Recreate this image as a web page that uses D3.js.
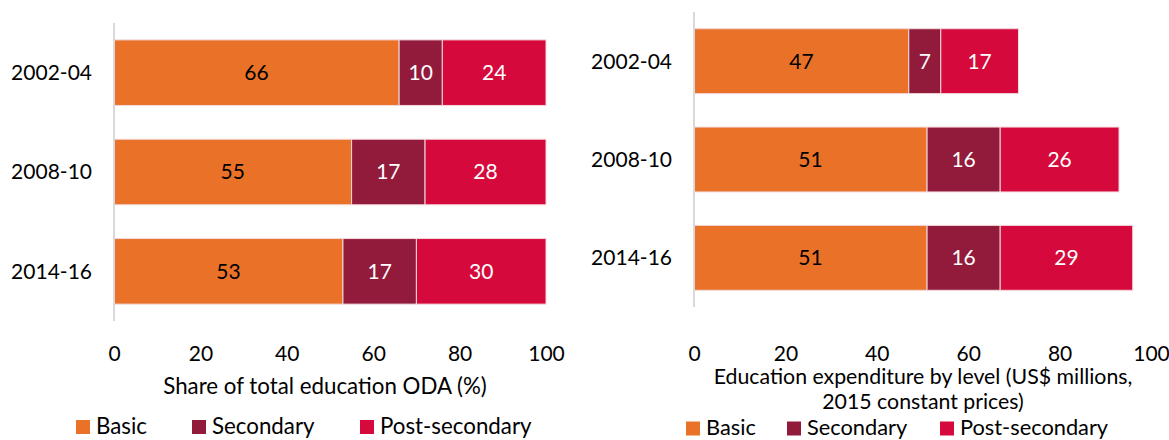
<!DOCTYPE html>
<html>
<head>
<meta charset="utf-8">
<script src="https://cdn.jsdelivr.net/npm/d3@7"></script>
<style>
  body { margin: 0; background: #fff; }
  svg text { font-family: Lato, "Open Sans", sans-serif; }
</style>
</head>
<body>
<div id="plot"></div>
<script>
// data
const periods = ["2002-04", "2008-10", "2014-16"];
const levels = ["Basic", "Secondary", "Post-secondary"];

// left panel: share of total education ODA (%)
const shareBasic = [66, 55, 53];
const shareSecondary = [10, 17, 17];
const sharePost = [24, 28, 30];

// right panel: expenditure (US$ millions, 2015 constant prices)
const spendBasic = [47, 51, 51];
const spendSecondary = [7, 16, 16];
const spendPost = [17, 26, 29];

const xTicks = [0, 20, 40, 60, 80, 100];

const w = 1169;
const h = 440;
const fontSize = 21;     // digits
const colors = {"Basic": "#E97228", "Secondary": "#921B3C", "Post-secondary": "#D6093C"};
const textColors = {"Basic": "#000", "Secondary": "#fff", "Post-secondary": "#fff"};

const svg = d3.select("div#plot")
  .append("svg")
  .attr("width", w)
  .attr("height", h);

function makeRows(b, s, p) {
  return periods.map((d, i) => ({period: d, "Basic": b[i], "Secondary": s[i], "Post-secondary": p[i]}));
}

function drawPanel(opt) {
  const rows = makeRows(opt.basic, opt.secondary, opt.post);
  const stacked = d3.stack().keys(levels)(rows);

  const xScale = d3.scaleLinear().domain([0, 100]).range([opt.x0, opt.x1]);
  const yScale = d3.scaleBand()
    .domain(periods)
    .range([opt.y0, opt.y1])
    .paddingInner(0.34)
    .paddingOuter(0.17);

  const g = svg.append("g");

  // bars
  const layers = g.selectAll("g.layer")
    .data(stacked)
    .enter().append("g")
    .attr("class", "layer")
    .attr("fill", d => colors[d.key]);

  layers.selectAll("rect")
    .data(d => d)
    .enter().append("rect")
    .attr("x", d => xScale(d[0]))
    .attr("y", d => yScale(d.data.period))
    .attr("width", d => xScale(d[1]) - xScale(d[0]))
    .attr("height", yScale.bandwidth())
    .attr("stroke", "#f3d9dc")
    .attr("stroke-width", 1);

  // value labels
  stacked.forEach(layer => {
    g.selectAll(null)
      .data(layer)
      .enter().append("text")
      .attr("x", d => (xScale(d[0]) + xScale(d[1])) / 2)
      .attr("y", d => yScale(d.data.period) + yScale.bandwidth() / 2)
      .attr("dy", "0.35em")
      .attr("text-anchor", "middle")
      .attr("font-size", fontSize)
      .attr("fill", textColors[layer.key])
      .text(d => d[1] - d[0]);
  });

  // vertical axis line
  g.append("line")
    .attr("x1", opt.x0).attr("x2", opt.x0)
    .attr("y1", opt.y0).attr("y2", opt.y1)
    .attr("stroke", "#d9d9d9")
    .attr("stroke-width", 2);

  // category labels
  g.selectAll("text.cat")
    .data(periods)
    .enter().append("text")
    .attr("class", "cat")
    .attr("x", opt.x0 - 22)
    .attr("y", d => yScale(d) + yScale.bandwidth() / 2)
    .attr("dy", "0.35em")
    .attr("text-anchor", "end")
    .attr("font-size", fontSize)
    .attr("fill", "#000")
    .text(d => d);

  // x axis
  const xAxis = d3.axisBottom(xScale)
    .tickValues(xTicks)
    .tickSize(0)
    .tickPadding(0)
    .tickFormat(d3.format("d"));

  const ax = g.append("g")
    .attr("transform", `translate(0, ${opt.tickY})`)
    .call(xAxis);
  ax.select(".domain").remove();
  ax.selectAll("text")
    .attr("font-size", fontSize)
    .attr("font-family", null)
    .attr("fill", "#000")
    .attr("dy", "0.35em")
    .attr("y", 0);

  // axis title
  const t = g.append("text")
    .attr("x", opt.titleX)
    .attr("text-anchor", "middle")
    .attr("font-size", opt.titleSize)
    .attr("fill", "#000");
  opt.title.forEach((line, i) => {
    t.append("tspan")
      .attr("x", opt.titleX)
      .attr("y", opt.titleY + i * 24.5)
      .attr("dy", "0.35em")
      .text(line);
  });

  // legend
  const lg = g.selectAll("g.leg")
    .data(levels)
    .enter().append("g")
    .attr("class", "leg")
    .attr("transform", (d, i) => `translate(${opt.legendX[i]}, ${opt.legendY})`);
  lg.append("rect")
    .attr("x", 0).attr("y", -6)
    .attr("width", 14).attr("height", 14)
    .attr("fill", d => colors[d]);
  lg.append("text")
    .attr("x", 20)
    .attr("dy", "0.35em")
    .attr("font-size", opt.legendSize)
    .attr("fill", "#000")
    .text(d => d);
}

drawPanel({
  basic: shareBasic, secondary: shareSecondary, post: sharePost,
  x0: 114, x1: 546, y0: 23, y1: 321,
  tickY: 354,
  title: ["Share of total education ODA (%)"],
  titleSize: 22.3,
  titleX: 325, titleY: 386,
  legendSize: 22.3,
  legendX: [76, 192, 360], legendY: 426
});

drawPanel({
  basic: spendBasic, secondary: spendSecondary, post: spendPost,
  x0: 694, x1: 1151, y0: 12, y1: 307,
  tickY: 354,
  title: ["Education expenditure by level (US$ millions,", "2015 constant prices)"],
  titleSize: 21.3,
  titleX: 923, titleY: 377,
  legendSize: 21.8,
  legendX: [686, 787, 940], legendY: 427.5
});
</script>
</body>
</html>
